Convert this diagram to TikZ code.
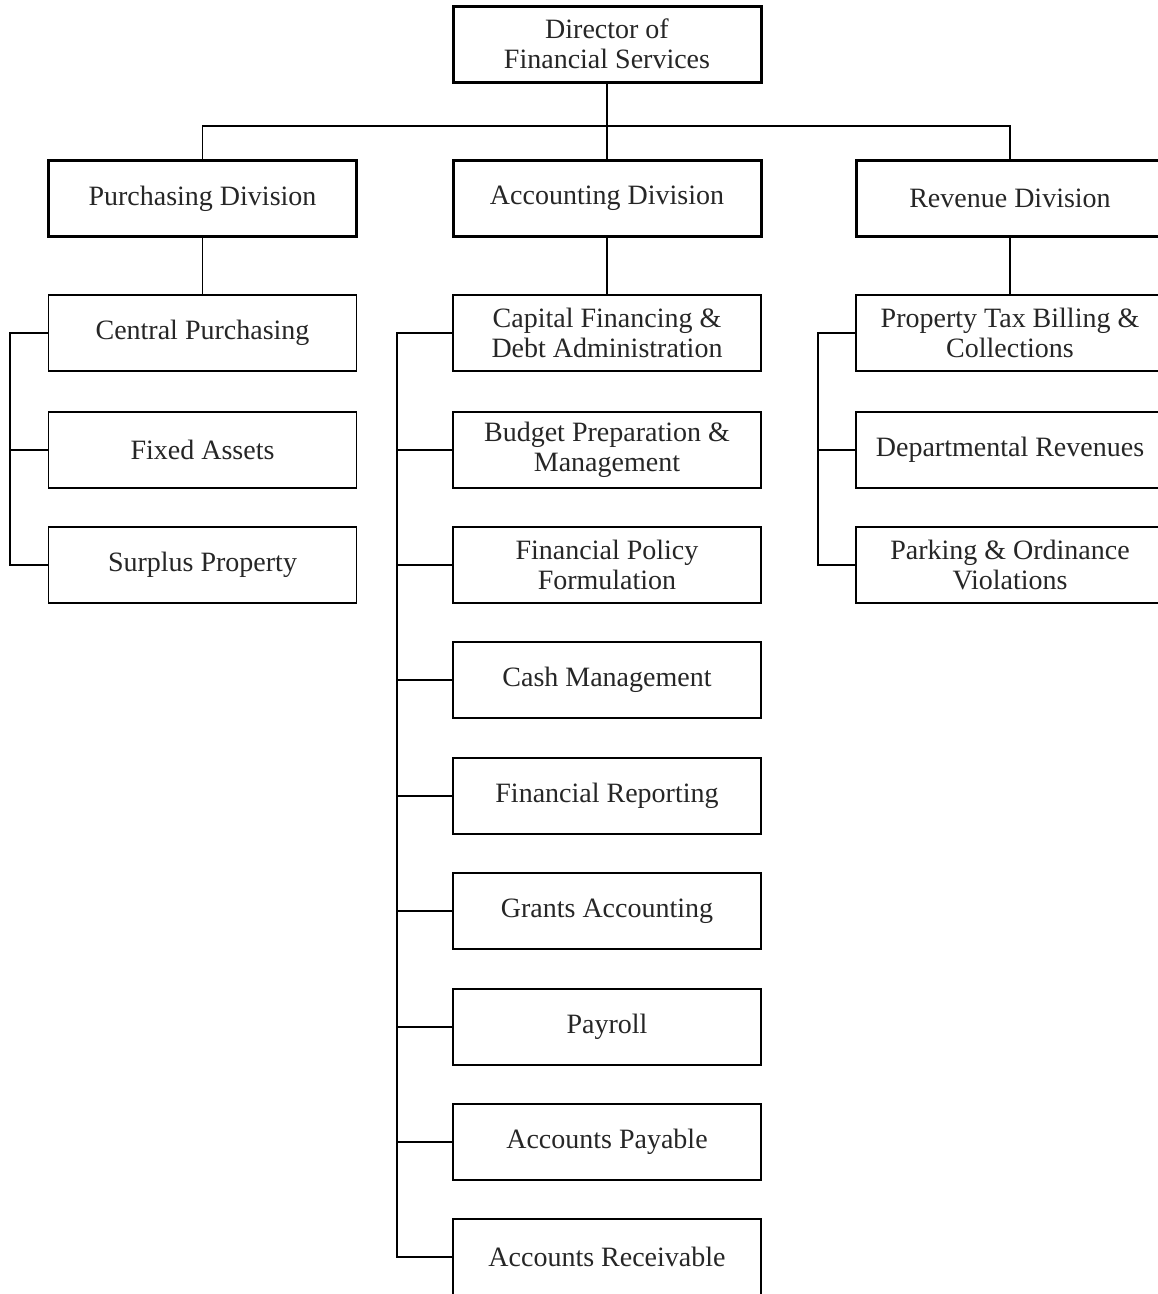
\documentclass[tikz,border=0pt]{standalone}
\usepackage{fontspec}
\setmainfont{Liberation Serif}
\begin{document}
\begin{tikzpicture}[x=1pt,y=-1pt,
  box/.style={draw, line width=1.5pt, minimum width=308pt, minimum height=76pt, inner sep=0pt, align=center,
    font=\fontsize{28}{29.5}\selectfont, text=black!85},
  thickbox/.style={box, line width=3pt},
  conn/.style={line width=1.5pt}]
\useasboundingbox (0,0) rectangle (1158,1294);
\clip (0,0) rectangle (1158,1294);
\fill[white] (0,0) rectangle (1158,1294);

\node[thickbox] (dir) at (607,44) {Director of\\Financial Services};
\node[thickbox] (pur) at (202.5,198.5) {Purchasing Division};
\node[thickbox] (acc) at (607,198.5) {Accounting Division};
\node[thickbox] (rev) at (1010,198.5) {Revenue Division};

% purchasing
\node[box] (cp) at (202.5,333) {Central Purchasing};
\node[box] (fa) at (202.5,450) {Fixed Assets};
\node[box] (sp) at (202.5,565) {Surplus Property};

% accounting
\node[box] (cf) at (607,333) {Capital Financing \&\\Debt Administration};
\node[box] (bp) at (607,450) {Budget Preparation \&\\Management};
\node[box] (fp) at (607,565) {Financial Policy\\Formulation};
\node[box] (cm) at (607,680) {Cash Management};
\node[box] (fr) at (607,796) {Financial Reporting};
\node[box] (ga) at (607,911) {Grants Accounting};
\node[box] (pr) at (607,1027) {Payroll};
\node[box] (ap) at (607,1142) {Accounts Payable};
\node[box] (ar) at (607,1257) {Accounts Receivable};

% revenue
\node[box] (pt) at (1010,333) {Property Tax Billing \&\\Collections};
\node[box] (dr) at (1010,450) {Departmental Revenues};
\node[box] (po) at (1010,565) {Parking \& Ordinance\\Violations};

% top connectors
\coordinate (h) at (607,126);
\draw[conn] (dir.south) -- (acc.north);
\draw[conn] (pur.north) |- (h) -| (rev.north);
\draw[conn] (pur.south) -- (cp.north);
\draw[conn] (acc.south) -- (cf.north);
\draw[conn] (rev.south) -- (pt.north);

% buses
\coordinate (lb) at (10,0);
\coordinate (mb) at (397,0);
\coordinate (rb) at (818,0);
\draw[conn] (cp.west) -- (cp.west -| lb) -- (sp.west -| lb) -- (sp.west);
\draw[conn] (fa.west) -- (fa.west -| lb);

\draw[conn] (cf.west) -- (cf.west -| mb) -- (ar.west -| mb) -- (ar.west);
\foreach \n in {bp,fp,cm,fr,ga,pr,ap} \draw[conn] (\n.west) -- (\n.west -| mb);

\draw[conn] (pt.west) -- (pt.west -| rb) -- (po.west -| rb) -- (po.west);
\draw[conn] (dr.west) -- (dr.west -| rb);
\end{tikzpicture}
\end{document}
